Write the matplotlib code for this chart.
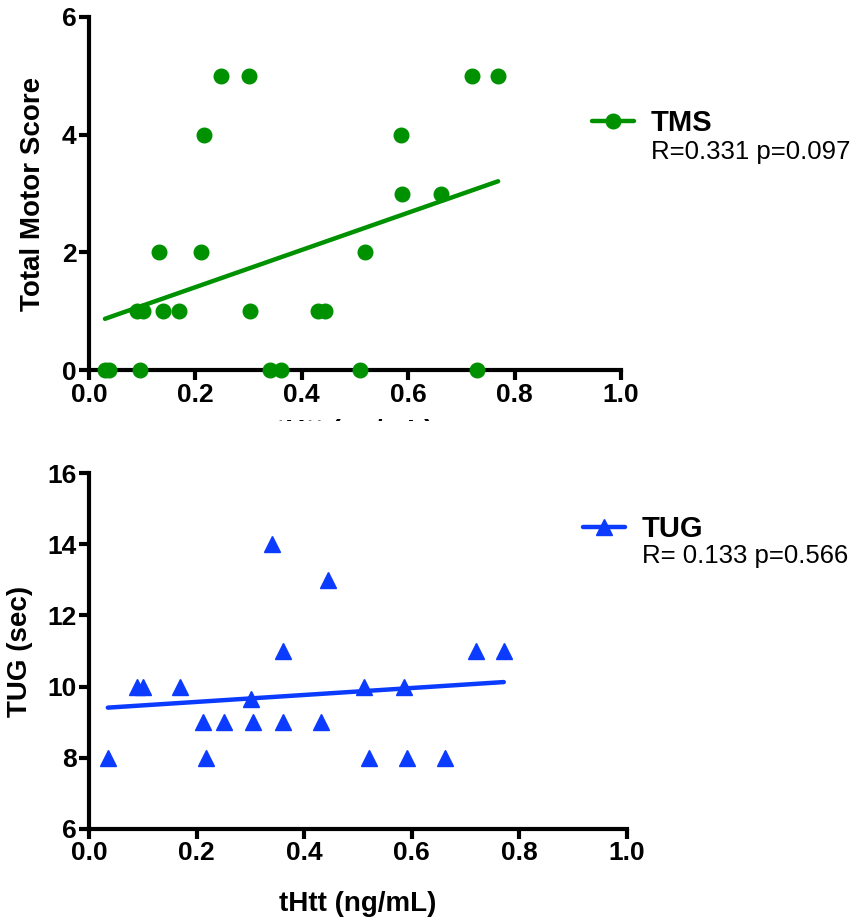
import matplotlib
matplotlib.use("Agg")
import matplotlib.pyplot as plt
import numpy as np
from matplotlib.lines import Line2D
from matplotlib.patches import Rectangle

# TMS vs tHtt
tms_x = [0.030, 0.037, 0.096, 0.340, 0.360, 0.510, 0.729,
         0.091, 0.101, 0.140, 0.170, 0.303, 0.430, 0.443,
         0.131, 0.210, 0.519,
         0.589, 0.662,
         0.216, 0.586,
         0.249, 0.300, 0.719, 0.769]
tms_y = [0, 0, 0, 0, 0, 0, 0,
         1, 1, 1, 1, 1, 1, 1,
         2, 2, 2,
         3, 3,
         4, 4,
         5, 5, 5, 5]

# TUG vs tHtt
tug_x = [0.035, 0.217, 0.520, 0.591, 0.662,
         0.211, 0.251, 0.304, 0.361, 0.431,
         0.301,
         0.089, 0.101, 0.169, 0.511, 0.586,
         0.361, 0.720, 0.771,
         0.445, 0.341]
tug_y = [8, 8, 8, 8, 8,
         9, 9, 9, 9, 9,
         9.66,
         10, 10, 10, 10, 10,
         11, 11, 11,
         13, 14]

tms_stats = "R=0.331 p=0.097"
tug_stats = "R= 0.133 p=0.566"
x_ticks = [0.0, 0.2, 0.4, 0.6, 0.8, 1.0]

GREEN = "#009100"
BLUE = "#0B3BFF"
W, H = 860, 919

plt.rcParams['font.family'] = ['Liberation Sans', 'DejaVu Sans']

fig = plt.figure(figsize=(W / 100, H / 100), dpi=100)


def px_axes(left, right, top, bottom):
    return fig.add_axes([left / W, 1 - bottom / H, (right - left) / W, (bottom - top) / H])


def style(ax):
    for s in ['top', 'right']:
        ax.spines[s].set_visible(False)
    for s in ['left', 'bottom']:
        ax.spines[s].set_linewidth(3)
    ax.tick_params(direction='out', length=7, width=3, labelsize=19, pad=2)
    for lab in ax.get_xticklabels() + ax.get_yticklabels():
        lab.set_fontweight('bold')


def fit_line(ax, x, y, color):
    x = np.asarray(x)
    k, b = np.polyfit(x, y, 1)
    xs = np.array([x.min(), x.max()])
    ax.plot(xs, k * xs + b, color=color, lw=3.2, solid_capstyle='round', zorder=3)


# top panel
ax1 = px_axes(89, 621, 17, 370)
ax1.plot(tms_x, tms_y, 'o', color=GREEN, ms=10.5, clip_on=False, zorder=4)
fit_line(ax1, tms_x, tms_y, GREEN)
ax1.set_xlim(0, 1)
ax1.set_ylim(0, 6)
ax1.set_xticks(x_ticks)
ax1.set_xticklabels([f"{t:.1f}" for t in x_ticks])
ax1.set_yticks([0, 2, 4, 6])
style(ax1)
ax1.set_ylabel("Total Motor Score", fontsize=20, fontweight='bold')
ax1.yaxis.set_label_coords(-0.081, 0.5)
ax1.set_xlabel("tHtt (ng/mL)", fontsize=20, fontweight='bold')
ax1.xaxis.set_label_coords(0.5, -0.139)

h1 = Line2D([], [], color=GREEN, lw=3.2, marker='o', ms=10.5, solid_capstyle='round')
fig.legend([h1], ["TMS"], loc='center left', bbox_to_anchor=(592 / W, 1 - 123 / H),
           frameon=False, borderpad=0, borderaxespad=0, handlelength=1.45,
           handletextpad=0.55, prop={'size': 21, 'weight': 'bold'})
fig.text(651 / W, 1 - 152 / H, tms_stats, fontsize=18.5, va='center', ha='left')

# the top x label is partly hidden behind the lower panel
fig.add_artist(Rectangle((0, 1 - 455 / H), 1, (455 - 421) / H, transform=fig.transFigure,
                         facecolor='white', edgecolor='none', zorder=10))

# bottom panel
ax2 = px_axes(89, 627, 473, 829)
ax2.plot(tug_x, tug_y, '^', color=BLUE, ms=11.5, clip_on=False, zorder=4)
fit_line(ax2, tug_x, tug_y, BLUE)
ax2.set_xlim(0, 1)
ax2.set_ylim(6, 16)
ax2.set_xticks(x_ticks)
ax2.set_xticklabels([f"{t:.1f}" for t in x_ticks])
ax2.set_yticks([6, 8, 10, 12, 14, 16])
style(ax2)
ax2.set_ylabel("TUG (sec)", fontsize=20, fontweight='bold')
ax2.yaxis.set_label_coords(-0.104, 0.5)
ax2.set_xlabel("tHtt (ng/mL)", fontsize=20, fontweight='bold')
ax2.xaxis.set_label_coords(0.5, -0.175)

h2 = Line2D([], [], color=BLUE, lw=3.2, marker='^', ms=11.5, solid_capstyle='round')
fig.legend([h2], ["TUG"], loc='center left', bbox_to_anchor=(583 / W, 1 - 529 / H),
           frameon=False, borderpad=0, borderaxespad=0, handlelength=1.45,
           handletextpad=0.55, prop={'size': 21, 'weight': 'bold'})
fig.text(642 / W, 1 - 556 / H, tug_stats, fontsize=18.5, va='center', ha='left')

fig.savefig("out.png", dpi=100)
